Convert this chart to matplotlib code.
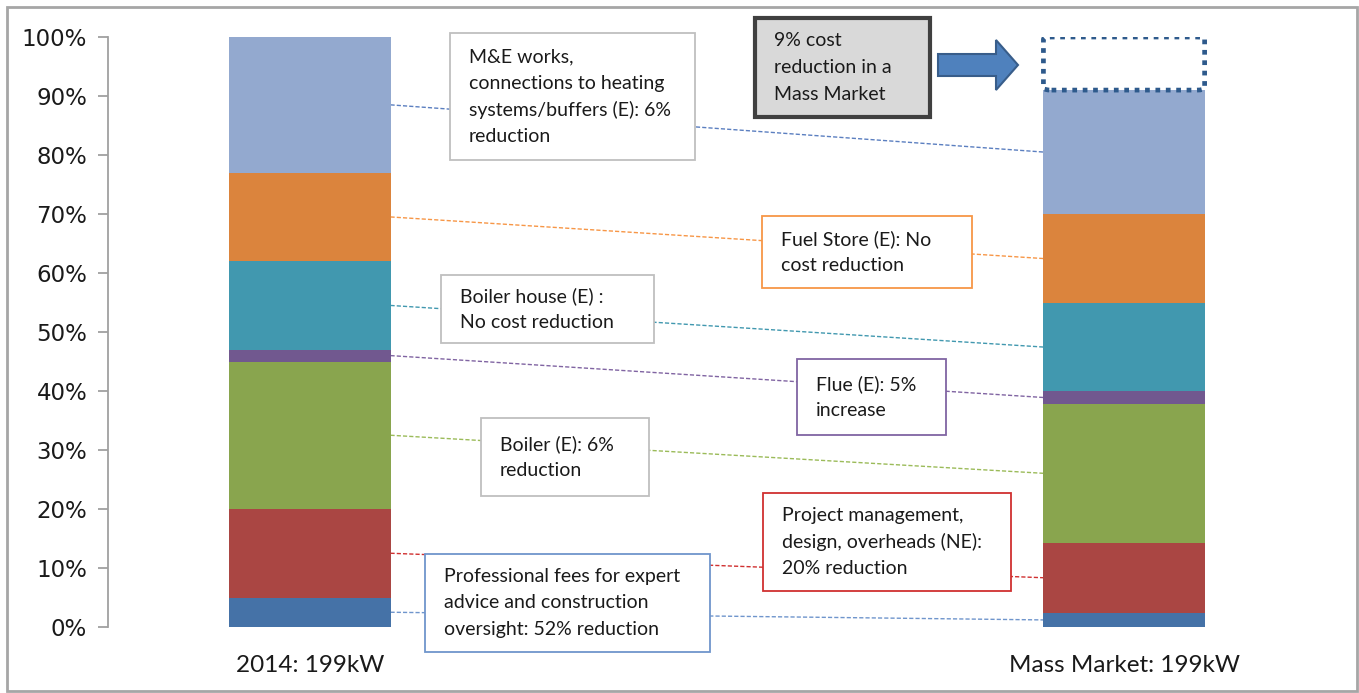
import numpy as np
import matplotlib
matplotlib.use("Agg")
import matplotlib.pyplot as plt
from matplotlib.patches import Rectangle, FancyBboxPatch, FancyArrow

plt.rcParams["font.family"] = ["Lato", "DejaVu Sans"]

# data (share of total cost, %)
categories = ["2014: 199kW", "Mass Market: 199kW"]
components = ["Professional fees", "Project management", "Boiler", "Flue",
              "Boiler house", "Fuel Store", "M&E works"]
base_2014 = [5.0, 15.0, 25.0, 2.0, 15.0, 15.0, 23.0]
mass_market = [2.4, 11.9, 23.5, 2.2, 14.9, 15.1, 21.0]
colors = ["#4572A7", "#AA4643", "#89A54E", "#71588F", "#4198AF", "#DB843D", "#93A9CF"]
line_colors = ["#6F95CC", "#D03030", "#9BBB59", "#8064A2", "#4198AF", "#F79646", "#5B7FC0"]
y_ticks = [0, 10, 20, 30, 40, 50, 60, 70, 80, 90, 100]

W, H = 1359, 693
fig = plt.figure(figsize=(W / 100, H / 100), dpi=100)

def fx(px):
    return px / W

def fy(py):
    return 1 - py / H

# axes placed so 0% sits at y=627 and 100% at y=37
ax = fig.add_axes([fx(108), fy(627), fx(1330) - fx(108), fy(37) - fy(627)])
ax.set_ylim(0, 100)
ax.set_xlim(-0.248, 1.253)
bar_w = 0.198
x = np.arange(len(categories))

bottoms = np.zeros(2)
data = np.array([base_2014, mass_market])
for i in range(len(components)):
    ax.bar(x, data[:, i], bar_w, bottom=bottoms, color=colors[i], zorder=2)
    # dashed connector between segment midpoints
    m1 = bottoms[0] + data[0, i] / 2
    m2 = bottoms[1] + data[1, i] / 2
    ax.plot([x[0] + bar_w / 2, x[1] - bar_w / 2], [m1, m2], ls=(0, (3, 1.5)),
            lw=1, color=line_colors[i], zorder=1)
    bottoms += data[:, i]

# dotted placeholder for the 9% saving
top2 = bottoms[1]
ax.add_patch(FancyBboxPatch((x[1] - bar_w / 2, top2), bar_w, 100 - top2,
                            boxstyle="round,pad=0,rounding_size=0.01",
                            fill=False, ls=(0, (1, 1.2)), lw=3.4,
                            edgecolor="#2E5A8C", zorder=3, mutation_aspect=40))

ax.set_yticks(y_ticks)
ax.set_yticklabels([f"{t}%" for t in y_ticks], fontsize=16.5, color="#1a1a1a",
                   family="DejaVu Sans")
ax.set_xticks(x)
ax.set_xticklabels(categories, fontsize=17.5, color="#1a1a1a")
ax.tick_params(axis="x", length=0, pad=20)
ax.tick_params(axis="y", length=7, width=1.3, color="#A0A0A0", pad=8)
for s in ["top", "right", "bottom"]:
    ax.spines[s].set_visible(False)
ax.spines["left"].set_color("#A0A0A0")
ax.spines["left"].set_linewidth(1.3)
ax.patch.set_visible(False)

# outer frame
fig.add_artist(Rectangle((fx(7), fy(691)), fx(1357) - fx(7), fy(7) - fy(691),
                         transform=fig.transFigure, fill=False,
                         edgecolor="#A6A6A6", lw=2))

def note(x0, y0, x1, y1, lines, edge, tx=None, face="white", lw=1.3):
    fig.add_artist(Rectangle((fx(x0), fy(y1)), fx(x1) - fx(x0), fy(y0) - fy(y1),
                             transform=fig.transFigure, facecolor=face,
                             edgecolor=edge, lw=lw, zorder=5))
    tx = x0 + 19 if tx is None else tx
    n = len(lines)
    step = 26.5
    start = (y0 + y1) / 2 - step * (n - 1) / 2
    for k, s in enumerate(lines):
        fig.text(fx(tx), fy(start + k * step), s, fontsize=14, color="#1a1a1a",
                 va="center", ha="left", zorder=6)

note(450, 33, 695, 160, ["M&E works,", "connections to heating",
                         "systems/buffers (E): 6%", "reduction"], "#BFBFBF")
note(755, 18, 930, 117, ["9% cost", "reduction in a", "Mass Market"], "#404040",
     face="#D9D9D9", lw=3)
note(762, 216, 972, 288, ["Fuel Store (E): No", "cost reduction"], "#F79646")
note(441, 275, 654, 343, ["Boiler house (E) :", "No cost reduction"], "#BFBFBF")
note(797, 359, 946, 435, ["Flue (E): 5%", "increase"], "#8064A2")
note(481, 418, 649, 496, ["Boiler (E): 6%", "reduction"], "#BFBFBF")
note(763, 493, 1011, 591, ["Project management,", "design, overheads (NE):",
                           "20% reduction"], "#D03030")
note(425, 554, 710, 652, ["Professional fees for expert",
                          "advice and construction",
                          "oversight: 52% reduction"], "#6F95CC")

# arrow pointing to the saving
fig.add_artist(FancyArrow(fx(938), fy(65), fx(996) - fx(938), 0,
                          width=fy(54) - fy(76), head_width=fy(40) - fy(90),
                          head_length=fx(1018) - fx(996),
                          length_includes_head=False, transform=fig.transFigure,
                          facecolor="#4F81BD", edgecolor="#385D8A", lw=1.5, zorder=5))

fig.savefig("out.png", dpi=100)
